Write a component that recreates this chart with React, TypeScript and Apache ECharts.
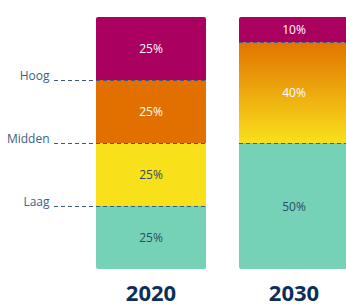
import React, { useEffect, useRef } from "react";
import * as echarts from "echarts";

const categories = ["2020", "2030"];
const laag = [25, 50];
const midden = [25, null];
const hoog = [25, 40];
const zeerHoog = [25, 10];
const levelValues = [25, 50, 75];
const levelNames: Record<number, string> = { 25: "Laag", 50: "Midden", 75: "Hoog" };

const BAR_W = 110;
const LEAD = 42;

export default function App() {
  const ref = useRef<HTMLDivElement>(null);
  useEffect(() => {
    if (!ref.current) return;
    const chart = echarts.init(ref.current, undefined, { renderer: "svg" });

    const bounds: number[][] = [];
    categories.forEach((_, i) => {
      const segs = [laag[i], midden[i], hoog[i], zeerHoog[i]];
      let acc = 0;
      for (let k = 0; k < segs.length - 1; k++) {
        const v = segs[k] || 0;
        acc += v;
        if (v === 0) continue;
        bounds.push([i, acc, i === 0 && levelValues.includes(acc) ? 1 : 0]);
      }
    });
    const seen = new Set<string>();
    const lineData = bounds.filter((b) => {
      const key = b[0] + "_" + b[1];
      if (seen.has(key)) return false;
      seen.add(key);
      return true;
    });

    const font = "'Open Sans', sans-serif";
    const darkLabel = { show: true, color: "#2b4a6e", fontSize: 12, fontFamily: font, formatter: (p: any) => p.value + "%" };
    const lightLabel = { ...darkLabel, color: "#ffffff" };

    chart.setOption({
      animation: false,
      grid: { left: 79.5, width: 286, top: 17, bottom: 37, outerBoundsMode: "none", containLabel: false },
      xAxis: {
        type: "category",
        data: categories,
        axisLine: { show: false },
        axisTick: { show: false },
        axisLabel: { margin: 13, fontSize: 22, lineHeight: 20, fontWeight: "bold", color: "#0b2f5b", fontFamily: font },
      },
      yAxis: {
        type: "value",
        min: 0,
        max: 100,
        interval: 25,
        splitLine: { show: false },
        axisLine: { show: false },
        axisTick: { show: false },
        axisLabel: {
          customValues: levelValues,
          margin: 30,
          fontSize: 12,
          color: "#3d5f86",
          fontFamily: font,
          verticalAlign: "bottom",
          lineHeight: 9,
          formatter: (v: number) => levelNames[v] || "",
        },
      },
      series: [
        {
          type: "bar", stack: "s", barWidth: BAR_W, data: laag,
          itemStyle: { color: "#76d2b6", borderRadius: [0, 0, 2, 2] }, label: darkLabel,
        },
        {
          type: "bar", stack: "s", barWidth: BAR_W, data: midden,
          itemStyle: { color: "#f8e11b" }, label: darkLabel,
        },
        {
          type: "bar", stack: "s", barWidth: BAR_W,
          data: hoog.map((v, i) =>
            i === 1
              ? {
                  value: v,
                  itemStyle: {
                    color: new echarts.graphic.LinearGradient(0, 0, 0, 1, [
                      { offset: 0, color: "#e27300" },
                      { offset: 1, color: "#f8e01c" },
                    ]),
                  },
                }
              : v
          ),
          itemStyle: { color: "#e27000" }, label: lightLabel,
        },
        {
          type: "bar", stack: "s", barWidth: BAR_W, data: zeerHoog,
          itemStyle: { color: "#aa005f", borderRadius: [2, 2, 0, 0] }, label: lightLabel,
        },
        {
          type: "custom",
          data: lineData,
          encode: { x: 0, y: 1 },
          silent: true,
          z: 5,
          renderItem: (params: any, api: any) => {
            const cat = api.value(0);
            const v = api.value(1);
            const lead = api.value(2);
            const p = api.coord([cat, v]);
            const y = Math.round(p[1]) + 0.5;
            return {
              type: "line",
              shape: { x1: p[0] - BAR_W / 2 - (lead ? LEAD : 0), y1: y, x2: p[0] + BAR_W / 2, y2: y },
              style: { stroke: "#3d5a7a", lineWidth: 1, lineDash: [4, 3] },
            };
          },
        },
      ],
    });
    return () => chart.dispose();
  }, []);
  return <div ref={ref} style={{ width: 346, height: 306, position: "absolute", left: 0, top: 0 }} />;
}
